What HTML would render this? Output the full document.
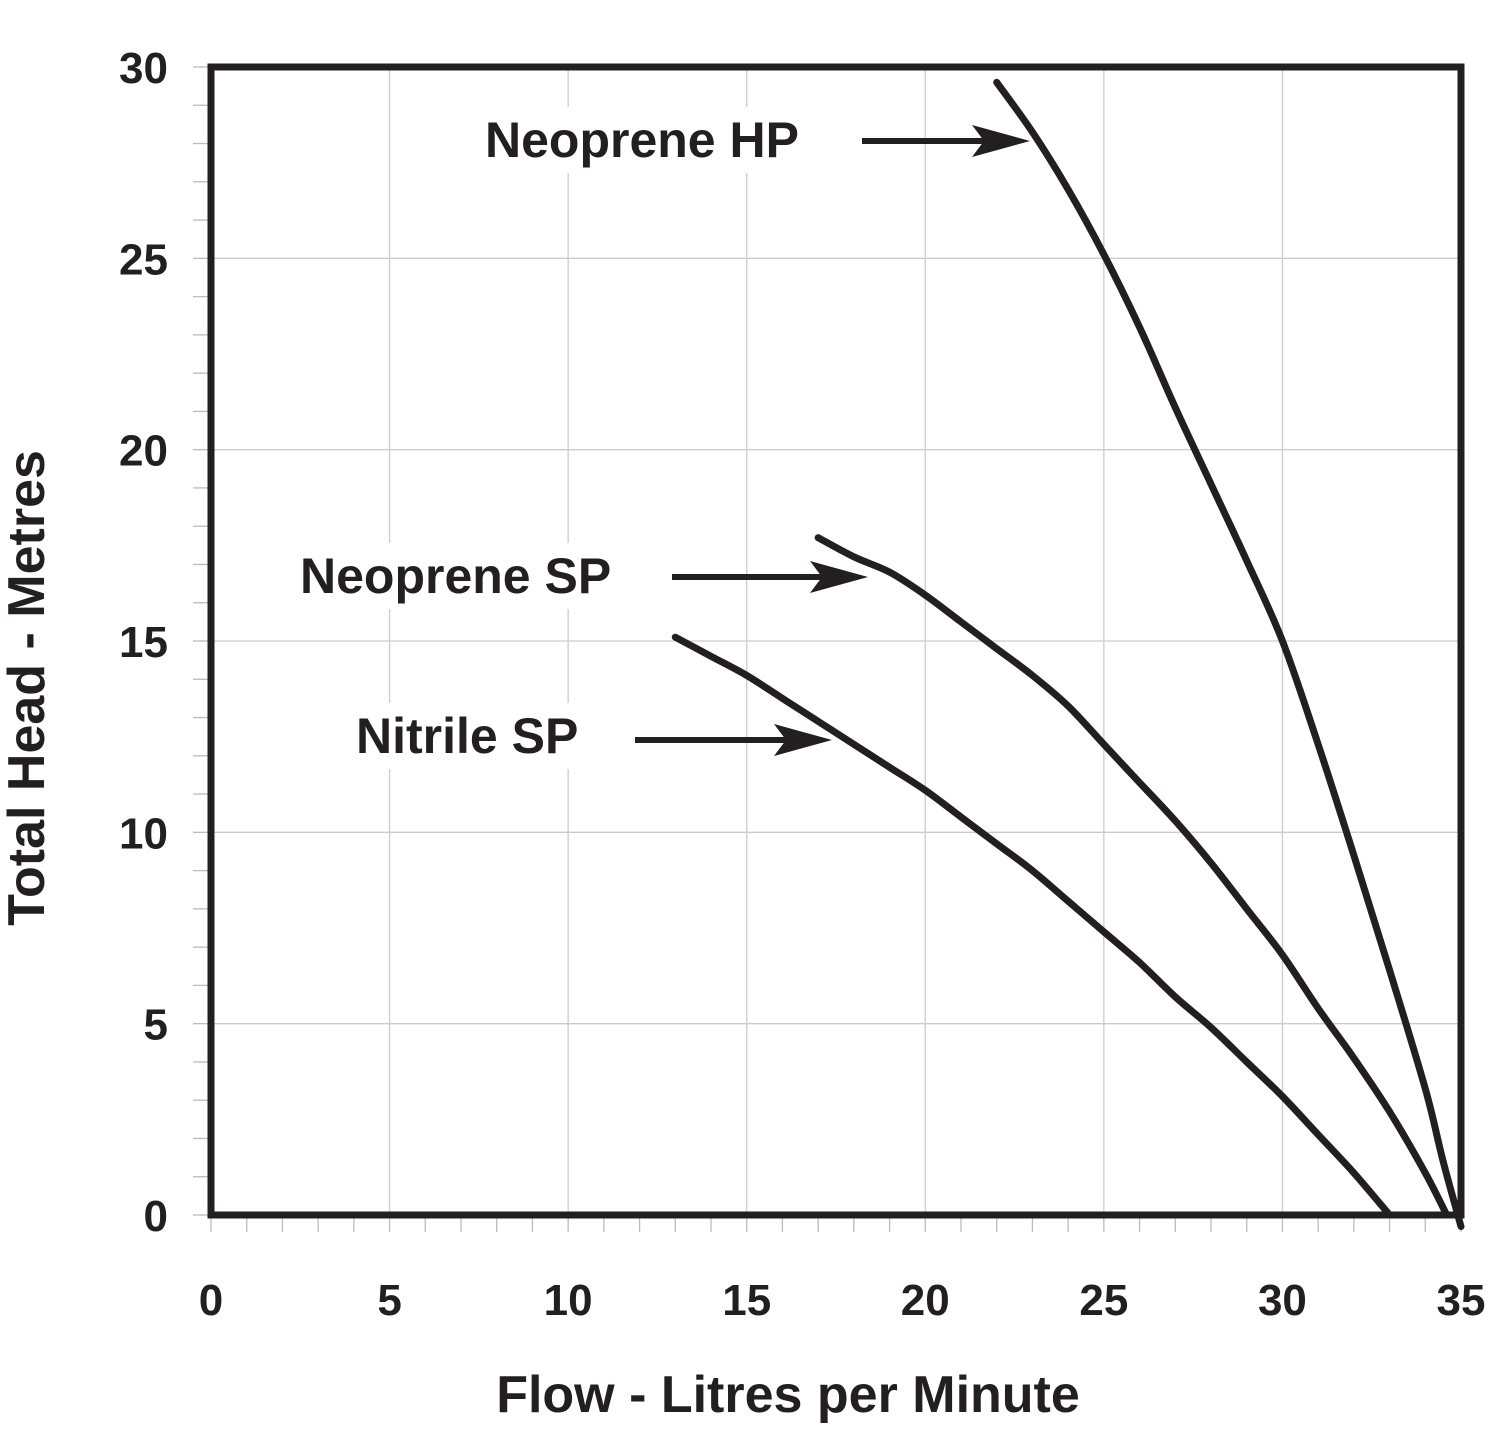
<!DOCTYPE html>
<html><head><meta charset="utf-8"><style>
body{margin:0;background:#fff;}
svg{display:block;font-family:"Liberation Sans",Arial,sans-serif;font-weight:bold;}
</style></head><body>
<svg id="chart" width="1500" height="1450" viewBox="0 0 1500 1450" xmlns="http://www.w3.org/2000/svg">
<g id="grid"></g>
<g id="ticks"></g>
<g id="curves"></g>
<rect x="211" y="67" width="1250" height="1148" fill="none" stroke="#231f20" stroke-width="7"/>
<g id="labels"></g>
<text x="788" y="1412" font-size="52" text-anchor="middle" fill="#231f20">Flow - Litres per Minute</text>
<text transform="translate(44,688) rotate(-90)" font-size="52" text-anchor="middle" fill="#231f20">Total Head - Metres</text>
</svg>
<script>
const xTicks=[0,5,10,15,20,25,30,35];
const yTicks=[0,5,10,15,20,25,30];
const hpX=[22,23,24,25,26,27,28,29,30,31,32,33,34,34.5,35];
const hpY=[29.6,28.3,26.8,25.1,23.2,21.1,19.1,17.1,15.0,12.3,9.4,6.4,3.3,1.4,-0.3];
const nspX=[17,18,19,20,21,22,23,24,25,26,27,28,29,30,31,32,33,34,34.6];
const nspY=[17.7,17.2,16.8,16.2,15.5,14.8,14.1,13.3,12.3,11.3,10.3,9.2,8.0,6.8,5.4,4.1,2.7,1.1,0];
const nitX=[13,14,15,16,17,18,19,20,21,22,23,24,25,26,27,28,29,30,31,32,33];
const nitY=[15.1,14.6,14.1,13.5,12.9,12.3,11.7,11.1,10.4,9.7,9.0,8.2,7.4,6.6,5.7,4.9,4.0,3.1,2.1,1.1,0];
const labels=[
 {text:"Neoprene HP",tx:485,ty:157,ax1:862,ax2:1030,ay:141},
 {text:"Neoprene SP",tx:300,ty:593,ax1:672,ax2:868,ay:577},
 {text:"Nitrile SP",tx:356,ty:753,ax1:635,ax2:832,ay:740}
];
const NS="http://www.w3.org/2000/svg";
const X=v=>211+v*1250/35, Y=v=>1215-v*1148/30;
function mk(tag,attrs,parent){const e=document.createElementNS(NS,tag);for(const k in attrs)e.setAttribute(k,attrs[k]);parent.appendChild(e);return e;}
const grid=document.getElementById('grid'),ticks=document.getElementById('ticks'),curves=document.getElementById('curves'),lab=document.getElementById('labels');
xTicks.forEach(v=>{
 const l=mk('line',{x1:X(v),x2:X(v),y1:67,y2:1215,stroke:'#ccc','stroke-width':1.3},grid);
 
 
 const t=mk('text',{x:X(v),y:1315,'font-size':44,'text-anchor':'middle',fill:'#231f20'},ticks);
 t.textContent=v;
 
 
});
for(let v=0;v<=35;v++){
 const m=mk('line',{x1:X(v),x2:X(v),y1:1218,y2:1232,stroke:'#bbb','stroke-width':1.3},ticks);
 
 
}
for(let v=0;v<=30;v++){
 const m=mk('line',{x1:193,x2:208,y1:Y(v),y2:Y(v),stroke:'#bbb','stroke-width':1.3},ticks);
 
 
}
yTicks.forEach(v=>{
 const l=mk('line',{x1:211,x2:1461,y1:Y(v),y2:Y(v),stroke:'#ccc','stroke-width':1.3},grid);
 
 
 const t=mk('text',{x:168,y:Y(v)+16,'font-size':44,'text-anchor':'end',fill:'#231f20'},ticks);
 t.textContent=v;
 
 
});
function smooth(xs,ys){
 const p=xs.map((x,i)=>[X(x),Y(ys[i])]);
 let d='M'+p[0][0]+','+p[0][1];
 for(let i=0;i<p.length-1;i++){
  const p0=p[i-1]||p[i],p1=p[i],p2=p[i+1],p3=p[i+2]||p2;
  d+=' C'+(p1[0]+(p2[0]-p0[0])/6)+','+(p1[1]+(p2[1]-p0[1])/6)+' '+(p2[0]-(p3[0]-p1[0])/6)+','+(p2[1]-(p3[1]-p1[1])/6)+' '+p2[0]+','+p2[1];
 }
 return d;
}
[[hpX,hpY,'curve-neoprene-hp'],[nspX,nspY,'curve-neoprene-sp'],[nitX,nitY,'curve-nitrile-sp']].forEach(s=>{
 const c=mk('path',{d:smooth(s[0],s[1]),fill:'none',stroke:'#231f20','stroke-width':7,'stroke-linecap':'round'},curves);
 
 
});
labels.forEach(L=>{
 const bg=mk('rect',{x:L.tx-6,y:L.ty-50,width:L.text.length*27+10,height:66,fill:'#fff'},lab);
 
 
 const t=mk('text',{x:L.tx,y:L.ty,'font-size':50,fill:'#231f20'},lab);
 t.textContent=L.text;
 
 
 const sh=mk('line',{x1:L.ax1,x2:L.ax2-40,y1:L.ay,y2:L.ay,stroke:'#231f20','stroke-width':6},lab);
 
 
 const h=L.ax2;
 const hd=mk('polygon',{points:`${h},${L.ay} ${h-58},${L.ay-16} ${h-46},${L.ay} ${h-58},${L.ay+16}`,fill:'#231f20'},lab);
 
 
});
</script>
</body></html>
